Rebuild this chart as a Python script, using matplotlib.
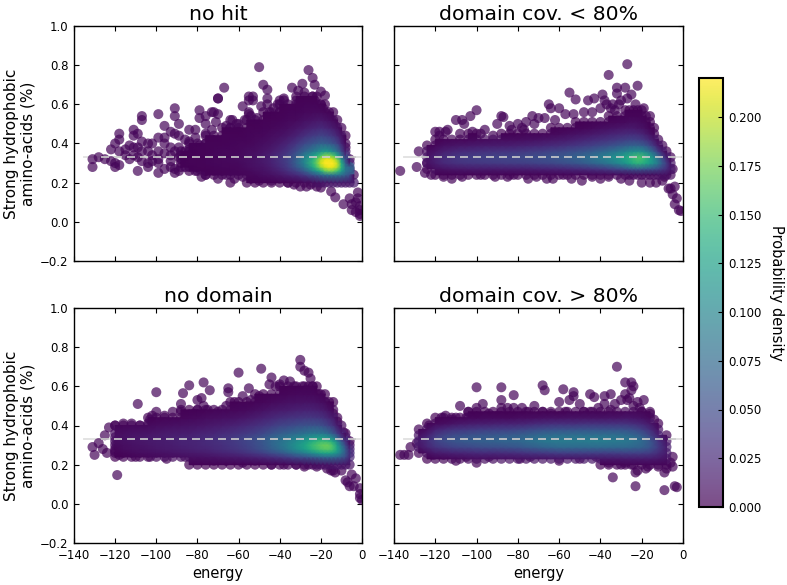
#!/usr/bin/env python

import matplotlib
matplotlib.use('Agg')
import matplotlib.pyplot as plt
import numpy as np

titles = ['no hit', 'domain cov. < 80%', 'no domain', 'domain cov. > 80%']
ylabel_text = 'Strong hydrophobic\namino-acids (%)'
reference_level = 0.33
sparse_density = 0.003

## no hit: scattered points
nohit_sparse_energy = [-131,-131,-128,-125,-122,-122,-120,-120,-120,-118,-118,-118,-118,-115,-115,-113,-113,
    -111,-111,-111,-111,-109,-109,-109,-109,-107,-107,-107,-107,-107,-104,-104,-104,-104,-102,-102,-102,
    -99,-99,-99,-99,-99,-99,-96,-96,-96,-96,-96,-93,-93,-93,-93,-93,-91,-91,-91,-91,-91,-91,
    -89,-89,-89,-89,-89,-86,-86,-86,-86,-84,-84,-84,-84,-81,-81,-81,-81,-81,-81,-81,
    -79,-79,-79,-79,-79,-79,-76,-76,-76,-76,-76,-76,-76,-76,-73,-73,-73,-73,-73,-73,
    -72,-70,-70,-70,-67,-64,-64,-60,-60,-58,-55,-55,-55,-55,-53,-53,-50,-48,-46,-46,-46,-43,-40,-40,-38,-38,
    -34,-31,-31,-29,-28,-26,-24,-24,-23,-23,-20,-20,-18,
    -33,-30,-27,-25,-22,-20,-15,-13,-9,-6,-5,-5,-3,-3,-1,-1,-1,-1,-2,-2,
    -71,-66,-63,-61,-57,-54,-51,-49,-45,-41,-37,-35,-32,-28,-19,-17,-15,-13,-12,-10,-8,
    -78,-70,-66,-62,-58,-54,-50,-47,-44,-40,-36,-34,-8,-6]
nohit_sparse_hydro = [.28,.32,.33,.32,.37,.31,.40,.28,.30,.45,.42,.36,.29,.37,.34,.39,.32,
    .47,.44,.38,.34,.45,.33,.26,.38,.54,.52,.41,.36,.31,.36,.40,.30,.28,.40,.34,.31,
    .55,.43,.36,.32,.30,.25,.49,.43,.40,.35,.27,.46,.38,.34,.31,.28,.58,.54,.45,.36,.27,.25,
    .50,.44,.38,.33,.26,.42,.36,.32,.28,.47,.41,.37,.33,.47,.43,.38,.34,.30,.28,.26,
    .57,.53,.39,.35,.31,.27,.54,.50,.45,.40,.36,.32,.26,.24,.56,.47,.42,.37,.33,.27,
    .56,.63,.63,.55,.685,.52,.48,.46,.50,.59,.62,.64,.55,.56,.62,.64,.79,.70,.675,.60,.63,.58,.62,.56,.62,.63,
    .685,.67,.60,.705,.66,.775,.735,.64,.70,.62,.665,.60,.645,
    .19,.18,.18,.19,.18,.175,.155,.125,.09,.12,.06,.09,.10,.05,.08,.04,.06,.03,.15,.12,
    .51,.49,.52,.50,.52,.54,.53,.59,.56,.60,.58,.57,.62,.60,.58,.55,.52,.49,.46,.43,.38,
    .23,.22,.24,.22,.23,.22,.21,.23,.21,.22,.20,.22,.30,.27]

## no hit: dense body, one row per energy, one entry per level, in 0.001 of density
nohit_levels = [.20,.24,.26,.28,.30,.32,.34,.36,.40,.44,.48,.52,.56,.60,.64]
nohit_energy = [-88,-84,-80,-76,-72,-68,-64,-60,-56,-52,-48,-44,-40,-36,-32,-28,-24,-22,-20,-18,-16,-14,-12,-10,-8,-6,-4]
nohit_density = [
    [0,0,0,1,1,1,1,1,0,0,0,0,0,0,0],
    [0,0,1,1,2,2,2,1,1,0,0,0,0,0,0],
    [0,0,1,2,2,2,2,2,1,0,0,0,0,0,0],
    [0,1,1,2,3,3,3,2,2,1,0,0,0,0,0],
    [0,1,2,3,4,4,4,3,2,1,0,0,0,0,0],
    [0,2,2,4,4,5,4,4,2,2,1,0,0,0,0],
    [1,3,3,4,5,6,5,4,3,2,1,0,0,0,0],
    [0,3,4,5,6,7,6,5,4,2,1,0,0,0,0],
    [1,4,5,7,8,9,8,7,4,3,2,1,0,0,0],
    [1,5,7,10,11,11,10,8,6,4,2,1,0,0,0],
    [1,8,10,12,14,15,14,12,8,5,3,2,1,0,0],
    [1,10,14,18,20,21,20,16,11,7,4,2,1,0,0],
    [2,14,20,26,30,31,29,24,16,10,6,3,2,1,0],
    [2,20,30,38,42,43,40,34,24,14,8,5,3,2,0],
    [2,26,42,58,66,66,60,50,34,20,12,6,3,2,1],
    [4,38,62,85,98,100,90,72,48,30,16,9,5,3,1],
    [6,55,95,130,145,140,118,90,58,38,22,12,6,3,1],
    [8,62,115,155,170,165,135,100,62,40,24,13,6,3,1],
    [10,72,135,185,205,195,155,112,68,44,26,14,6,2,0],
    [12,80,165,205,220,212,175,120,66,42,24,12,4,1,0],
    [12,85,175,215,225,215,175,115,62,38,20,9,3,0,0],
    [13,85,170,210,222,205,160,102,55,32,16,6,2,0,0],
    [14,85,150,190,200,175,130,84,44,24,10,3,0,0,0],
    [14,78,118,140,135,110,78,50,24,11,3,0,0,0,0],
    [14,66,85,85,68,48,28,15,6,1,0,0,0,0,0],
    [14,50,70,70,20,5,0,0,0,0,0,0,0,0,0],
    [15,5,0,0,0,0,0,0,0,0,0,0,0,0,0]]

## domain cov. < 80%
low_sparse_energy = [-137,-128,-129,-125,-124,-27,-36,-32,-28,-32,-22,-39,-43,-46,-55,-52,-38,-37,-34,-33,-25,-30,
    -60,-64,-65,-70,-73,-76,-100,-103,-107,-110,-88,-87,-90,-84,-80,-78,-115,-118,-120,-106,-98,
    -4,-3,-6,-1,-4,-2,-7,-5,-5,-9,-85,-63,-49,-112,-75,
    -118,-114,-108,-102,-96,-92,-83,-77,-72,-67,-62,-57,-53,-48,-44,-40,-35,-31,-27,-23,-19,-16,
    -122,-116,-107,-98,-91,-82,-71,-66,-58,-54,-44,-40,-36,-30,-26,-20,-16,-13,-10]
low_sparse_hydro = [.26,.36,.28,.25,.30,.805,.75,.685,.685,.655,.695,.65,.63,.62,.66,.625,.62,.60,.60,.57,.65,.62,
    .58,.58,.60,.53,.54,.51,.57,.54,.52,.52,.54,.535,.50,.49,.50,.48,.46,.46,.46,.50,.45,
    .18,.12,.17,.055,.09,.06,.17,.14,.27,.23,.23,.22,.21,.22,.22,
    .44,.47,.45,.46,.47,.44,.47,.47,.50,.53,.52,.55,.55,.56,.56,.58,.58,.60,.63,.60,.58,.54,
    .24,.23,.23,.24,.23,.24,.23,.22,.24,.22,.23,.22,.23,.22,.21,.20,.20,.20,.21]
low_levels = [.24,.27,.30,.33,.36,.39,.42,.45,.48,.51,.54,.57,.60]
low_energy = [-124,-120,-116,-112,-108,-104,-100,-96,-92,-88,-84,-80,-76,-72,-68,-64,-60,-56,-52,-48,-44,-40,
    -36,-32,-28,-26,-24,-22,-20,-18,-16,-14,-12,-10,-8,-6]
low_density = [
    [0,4,9,11,7,2,0,0,0,0,0,0,0],
    [1,8,18,20,12,5,2,0,0,0,0,0,0],
    [1,11,25,29,19,9,3,0,0,0,0,0,0],
    [1,13,29,33,23,11,4,0,0,0,0,0,0],
    [2,14,32,37,26,13,4,0,0,0,0,0,0],
    [1,15,34,40,28,14,5,1,0,0,0,0,0],
    [2,16,35,42,30,15,6,1,0,0,0,0,0],
    [2,16,36,43,31,16,6,0,0,0,0,0,0],
    [2,16,37,44,32,16,7,0,0,0,0,0,0],
    [2,17,38,45,33,17,7,1,0,0,0,0,0],
    [1,17,39,46,34,18,8,1,0,0,0,0,0],
    [2,18,40,48,35,19,8,2,0,0,0,0,0],
    [2,18,41,50,37,20,9,3,0,0,0,0,0],
    [2,19,43,52,39,22,10,3,0,0,0,0,0],
    [2,20,45,54,41,24,12,4,0,0,0,0,0],
    [2,21,47,57,44,26,13,5,1,0,0,0,0],
    [3,22,50,60,47,28,15,6,2,0,0,0,0],
    [3,24,54,64,50,31,17,8,2,0,0,0,0],
    [3,26,58,69,54,34,20,10,3,1,0,0,0],
    [3,28,63,75,58,38,23,12,4,1,0,0,0],
    [3,31,70,82,63,42,26,14,6,2,0,0,0],
    [4,35,78,92,70,47,30,17,8,3,0,0,0],
    [4,40,88,102,78,52,33,20,10,4,1,0,0],
    [5,46,100,114,87,58,37,23,12,5,2,0,0],
    [5,52,115,130,97,64,41,25,14,6,3,1,0],
    [5,56,126,140,104,67,43,26,14,7,3,1,0],
    [6,58,136,150,108,68,43,26,14,7,3,1,0],
    [6,60,142,158,110,68,42,25,12,7,3,1,0],
    [6,60,140,155,106,65,38,22,11,6,3,1,0],
    [6,58,132,142,96,58,32,16,7,4,2,0,0],
    [6,56,120,126,82,46,24,10,3,1,0,0,0],
    [6,52,106,104,64,32,14,5,2,0,0,0,0],
    [7,46,88,78,40,14,5,0,0,0,0,0,0],
    [8,38,62,48,18,6,0,0,0,0,0,0,0],
    [8,30,40,20,3,0,0,0,0,0,0,0,0],
    [6,14,12,4,0,0,0,0,0,0,0,0,0]]

## no domain
nodom_sparse_energy = [-119,-109,-100,-87,-84,-77,-74,-80,-78,-88,-60,-49,-44,-45,-38,-35,-30,-30,-28,-26,-25,-55,-65,-65,
    -131,-130,-128,-126,-124,-125,-123,-119,-120,-116,-8,-7,-6,-4,-5,-3,-1,-1,0,-1,-10,-13,-15,-9,-14,-12,
    -80,-82,-77,-75,-100,-102,-103,-112,-108,-104,-116,-120,-92,-88,-96,
    -70,-66,-62,-58,-54,-50,-46,-42,-40,-36,-33,-29,-27,-24,-21,-18,
    -118,-110,-103,-95,-86,-79,-72,-66,-58,-52,-44,-38,-32,-28,-22,-17,-14]
nodom_sparse_hydro = [.147,.51,.57,.565,.605,.62,.58,.53,.54,.51,.67,.69,.645,.61,.63,.625,.735,.70,.68,.67,.64,.59,.59,.57,
    .29,.25,.31,.28,.26,.35,.39,.30,.27,.28,.12,.11,.09,.09,.15,.13,.08,.05,.02,.03,.17,.16,.17,.365,.46,.42,
    .48,.46,.50,.48,.47,.45,.43,.41,.40,.41,.41,.40,.47,.47,.45,
    .47,.50,.52,.55,.53,.55,.53,.60,.61,.56,.60,.60,.58,.60,.56,.52,
    .25,.24,.24,.23,.24,.23,.22,.22,.21,.22,.20,.20,.20,.19,.19,.18,.17]
nodom_levels = [.20,.24,.26,.28,.30,.32,.34,.36,.40,.44,.48,.52,.56,.60]
nodom_energy = [-120,-116,-112,-108,-104,-100,-96,-92,-88,-84,-80,-76,-72,-68,-64,-60,-56,-52,-48,-44,-40,-36,
    -32,-28,-26,-24,-22,-20,-18,-16,-14,-12,-10,-8,-6]
nodom_density = [
    [0,1,2,4,6,7,8,7,3,0,0,0,0,0],
    [0,2,4,7,8,10,10,8,4,0,0,0,0,0],
    [0,3,6,9,10,12,12,10,5,0,0,0,0,0],
    [0,4,7,10,12,13,13,11,5,0,0,0,0,0],
    [0,5,8,12,13,15,15,12,6,1,0,0,0,0],
    [0,6,9,13,15,16,16,13,7,2,0,0,0,0],
    [0,7,10,15,16,18,18,15,8,3,0,0,0,0],
    [0,7,12,16,18,19,19,16,9,3,0,0,0,0],
    [0,8,13,18,20,21,21,17,10,4,1,0,0,0],
    [1,9,14,19,21,22,22,18,11,5,1,0,0,0],
    [1,10,15,21,23,24,24,20,12,6,1,0,0,0],
    [1,11,17,22,25,26,26,22,13,7,2,0,0,0],
    [1,12,19,25,27,29,29,24,15,8,3,0,0,0],
    [1,14,21,28,30,32,32,27,17,9,3,0,0,0],
    [1,15,24,31,34,35,35,30,19,10,4,1,0,0],
    [1,17,27,35,38,40,40,33,22,12,5,2,0,0],
    [1,19,31,40,43,45,45,37,25,14,6,2,0,0],
    [1,22,36,47,50,52,50,42,29,17,8,3,1,0],
    [1,25,42,55,58,60,58,48,33,20,10,4,1,0],
    [2,30,50,65,70,72,68,56,38,24,13,6,2,0],
    [2,35,58,76,82,82,76,64,44,28,15,7,3,1],
    [3,42,68,90,95,92,85,70,48,31,17,9,4,1],
    [4,50,80,106,112,106,95,76,52,33,19,10,5,1],
    [5,56,92,122,128,120,104,82,55,35,20,11,5,2],
    [5,60,100,132,140,128,110,86,56,35,20,11,5,2],
    [6,64,108,142,150,136,115,88,56,35,20,11,5,2],
    [7,68,116,150,158,144,118,88,56,34,19,10,4,1],
    [8,72,124,158,165,150,120,88,54,32,17,8,3,0],
    [9,75,128,162,170,150,118,83,48,28,14,6,2,0],
    [10,76,128,162,168,145,110,74,40,22,9,2,0,0],
    [11,75,122,152,152,128,96,60,32,15,5,1,0,0],
    [12,70,108,125,120,98,72,42,15,4,0,0,0,0],
    [12,62,86,94,84,62,40,20,6,0,0,0,0,0],
    [12,50,60,60,48,30,14,5,0,0,0,0,0,0],
    [10,24,26,22,12,4,0,0,0,0,0,0,0,0]]

## domain cov. > 80%
high_sparse_energy = [-32,-28,-25,-24,-100,-88,-68,-67,-58,-53,-45,-43,-38,-35,-82,-88,-108,-104,-97,-100,-88,-85,-82,-78,
    -72,-68,-60,-55,-53,-50,-45,-38,-28,-30,-26,-22,-19,-25,-35,-20,-115,-117,-110,-100,
    -34,-23,-23,-9,-4,-3,-137,-135,-133,-132,-129,-110,-100,-6,-5,-9,-8,-5,-18,-22,
    -123,-112,-105,-94,-90,-75,-64,-57,-48,-41,-33,-27,-24,-21,-16,-14,
    -121,-116,-105,-94,-79,-74,-60,-50,-42,-36,-30,-28,-25,-17,-12]
high_sparse_hydro = [.70,.62,.62,.60,.595,.595,.605,.58,.585,.57,.56,.545,.55,.56,.555,.53,.50,.47,.51,.49,.49,.49,.49,.49,
    .50,.47,.52,.53,.55,.51,.47,.51,.56,.53,.54,.52,.53,.58,.48,.47,.45,.44,.44,.44,
    .135,.16,.09,.07,.09,.085,.25,.25,.25,.29,.31,.22,.21,.21,.19,.16,.18,.24,.18,.17,
    .40,.43,.44,.46,.45,.47,.46,.47,.47,.49,.51,.53,.50,.49,.46,.43,
    .25,.25,.24,.24,.23,.24,.22,.23,.24,.21,.20,.21,.20,.19,.19]
high_levels = [.20,.23,.26,.29,.32,.35,.38,.41,.44,.47]
high_energy = [-128,-124,-120,-116,-112,-108,-104,-100,-96,-92,-88,-84,-80,-76,-72,-68,-64,-60,-56,-52,-48,-44,-40,
    -36,-32,-28,-24,-20,-16,-12,-8]
high_density = [
    [0,0,3,12,16,10,3,0,0,0],
    [0,1,8,22,28,20,8,1,0,0],
    [0,3,15,32,42,36,20,6,1,0],
    [0,4,18,38,50,44,26,8,2,0],
    [0,5,20,43,56,50,31,11,3,0],
    [0,6,22,46,60,54,34,14,4,0],
    [0,7,24,48,63,56,36,16,5,1],
    [0,8,25,50,65,58,38,18,5,1],
    [0,8,26,52,67,60,39,18,6,1],
    [0,8,26,53,68,61,40,19,6,1],
    [0,9,27,54,70,62,41,20,6,1],
    [0,9,28,56,71,64,42,20,6,1],
    [0,10,30,58,73,66,44,21,7,1],
    [0,10,32,62,77,69,46,23,7,2],
    [0,11,34,66,82,73,49,25,8,2],
    [0,11,36,70,86,77,52,27,9,2],
    [0,12,38,73,89,79,54,29,10,2],
    [0,12,40,75,90,80,55,30,10,2],
    [0,12,40,75,90,80,55,30,11,3],
    [0,12,40,75,91,81,56,30,11,3],
    [0,13,40,75,91,81,56,31,11,3],
    [0,13,40,75,92,81,56,31,11,3],
    [1,13,40,75,92,81,56,31,11,3],
    [1,14,40,75,91,81,56,31,12,4],
    [2,14,40,74,90,80,56,31,12,4],
    [2,15,42,74,88,78,55,31,13,5],
    [3,16,42,72,84,72,50,28,12,5],
    [3,16,42,68,76,62,42,24,10,4],
    [3,16,38,58,60,44,28,14,6,2],
    [3,14,28,38,34,20,10,3,0,0],
    [3,10,16,17,12,4,0,0,0,0]]

## colour scale
density_min = 0.0
density_max = 0.22
colorbar_ticks = [0.0,0.025,0.05,0.075,0.1,0.125,0.15,0.175,0.2]
energy_ticks = [-140,-120,-100,-80,-60,-40,-20,0]
hydro_ticks = [-0.2,0.0,0.2,0.4,0.6,0.8,1.0]

cmap = plt.get_cmap('viridis').copy()
cmap.set_bad(cmap(0.0)[:3], 0.0)


def draw_panel(ax, sparse_x, sparse_y, energy, levels, density):
    grid = np.array(density).T*0.001
    gx, gy = np.meshgrid(energy, levels)
    keep = grid > 0
    xs = np.concatenate([sparse_x, gx[keep]])
    ys = np.concatenate([sparse_y, gy[keep]])
    cs = np.concatenate([[sparse_density]*len(sparse_x), grid[keep]])
    order = np.argsort(cs)
    sc = ax.scatter(xs[order], ys[order], c=cs[order], s=52, linewidths=0,
                    cmap=cmap, vmin=density_min, vmax=density_max, alpha=0.7, zorder=2)
    # the overlapping points are nearly opaque, so the dense part goes in as a smooth mesh
    # empty border around the table so the mesh fades out at its edges
    mx, my = np.meshgrid([energy[0]-4]+list(energy)+[energy[-1]+2], [levels[0]-.03]+list(levels)+[levels[-1]+.03])
    ax.pcolormesh(mx, my, np.ma.masked_equal(np.pad(grid, 1), 0), shading='gouraud', cmap=cmap,
                  vmin=density_min, vmax=density_max, zorder=2.5)
    ax.plot([-135, 0], [reference_level]*2, color='#999999', alpha=0.3, lw=1.3, zorder=1)
    ax.plot([-127, 0], [reference_level]*2, color='#cccccc', lw=1.2, dashes=(4.8, 3), zorder=3)
    ax.set_xlim(-140, 0)
    ax.set_ylim(-0.2, 1.0)
    ax.set_xticks(energy_ticks)
    ax.set_yticks(hydro_ticks)
    ax.tick_params(direction='in', top=True, right=True, length=3.5, width=0.8, labelsize=8.5, pad=4)
    for s in ax.spines.values():
        s.set_linewidth(1.0)
    return sc


W, H = 787.0, 585.0
fig = plt.figure(figsize=(W/100, H/100), dpi=100)


def panel_axes(x0, x1, y0, y1):
    return fig.add_axes([x0/W, 1-y1/H, (x1-x0)/W, (y1-y0)/H])


ax1 = panel_axes(74, 362, 26, 261)
ax2 = panel_axes(394, 683, 26, 261)
ax3 = panel_axes(74, 362, 308, 543)
ax4 = panel_axes(394, 683, 308, 543)

sc = draw_panel(ax1, nohit_sparse_energy, nohit_sparse_hydro, nohit_energy, nohit_levels, nohit_density)
draw_panel(ax2, low_sparse_energy, low_sparse_hydro, low_energy, low_levels, low_density)
draw_panel(ax3, nodom_sparse_energy, nodom_sparse_hydro, nodom_energy, nodom_levels, nodom_density)
draw_panel(ax4, high_sparse_energy, high_sparse_hydro, high_energy, high_levels, high_density)

for ax, title in zip([ax1, ax2, ax3, ax4], titles):
    ax.set_title(title, fontsize=14.7, pad=4)
for ax in [ax1, ax3]:
    ax.set_ylabel(ylabel_text, fontsize=11)
    ax.yaxis.set_label_coords(-0.132, 0.5)
for ax in [ax3, ax4]:
    ax.set_xlabel('energy', fontsize=10.5, labelpad=3)
for ax in [ax1, ax2]:
    ax.set_xticklabels([])
for ax in [ax2, ax4]:
    ax.set_yticklabels([])

cax = panel_axes(699, 723, 78, 507)
cbar = fig.colorbar(sc, cax=cax, ticks=colorbar_ticks)
cbar.ax.set_yticklabels(['%.3f' % t for t in colorbar_ticks])
cbar.ax.tick_params(direction='in', length=3.5, width=0.8, labelsize=8.5, pad=4)
cbar.outline.set_linewidth(1.5)
cbar.set_label('Probability density', fontsize=10.5, rotation=270, labelpad=16)

plt.savefig('out.png', dpi=100)
